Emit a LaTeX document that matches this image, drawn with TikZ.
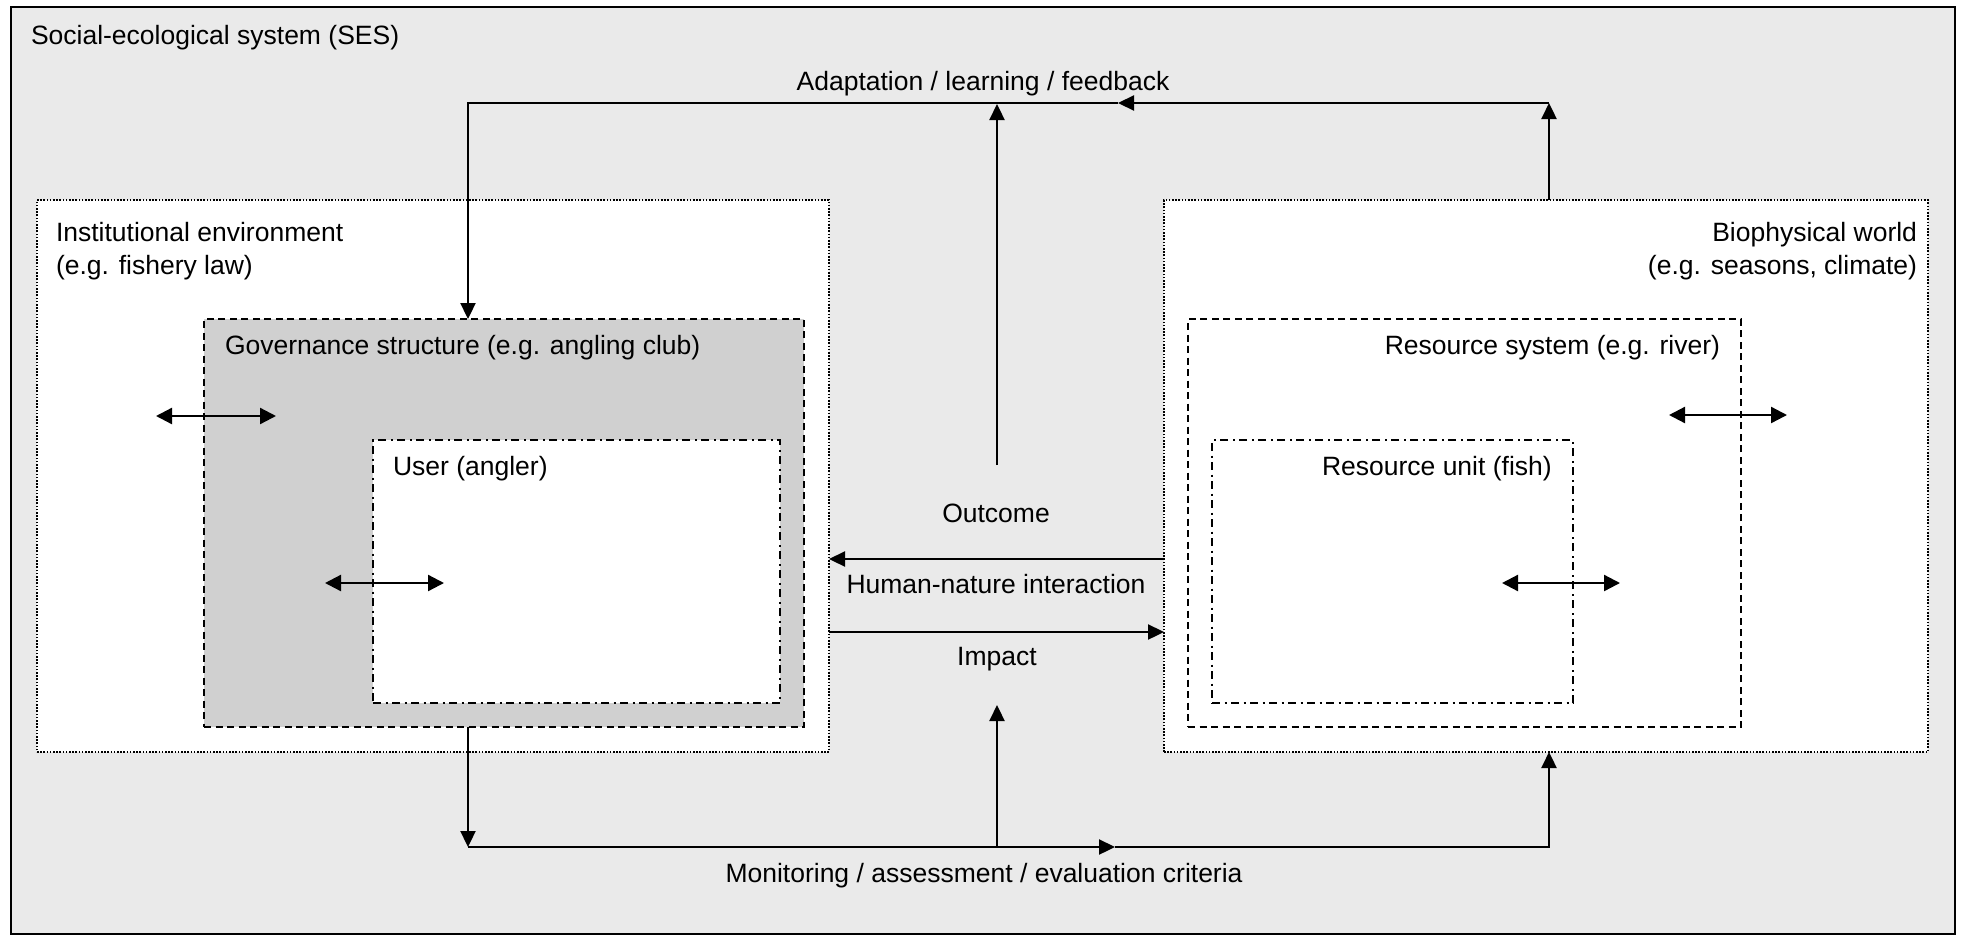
\documentclass[tikz,border=0pt]{standalone}
\usepackage{fontspec}
\setmainfont{Liberation Sans}
\usetikzlibrary{arrows.meta}
\definecolor{sesbg}{RGB}{234,234,234}
\definecolor{govbg}{RGB}{208,208,208}
\tikzset{
  lbl/.style={inner sep=0pt, outer sep=0pt, font=\fontsize{26.5}{32}\selectfont},
  boxbase/.style={anchor=north west, inner sep=0pt, outer sep=0pt},
  sesbox/.style={boxbase, draw=black, line width=2.2pt, fill=sesbg},
  dotbox/.style={boxbase, draw=black, line width=1.8pt, dash pattern=on 1.6pt off 1.6pt, fill=white},
  dashbox/.style={boxbase, draw=black, line width=2.3pt, dash pattern=on 7pt off 4.5pt},
  dashdotbox/.style={boxbase, draw=black, line width=2.3pt, dash pattern=on 8pt off 4.5pt on 2pt off 4.5pt, fill=white},
  arr/.style={line width=2.3pt, -{Triangle[length=16pt,width=15pt]}},
  darr/.style={line width=2.3pt, {Triangle[length=16pt,width=16pt]}-{Triangle[length=16pt,width=16pt]}},
}
\begin{document}
\begin{tikzpicture}[x=1pt,y=-1pt]
\useasboundingbox (0,0) rectangle (1962,940);
% boxes
\node[sesbox, minimum width=1944pt, minimum height=927pt] (ses) at (11,7) {};
\node[dotbox, minimum width=792pt, minimum height=552pt] (inst) at (37,200) {};
\node[dotbox, minimum width=764pt, minimum height=552pt] (bio) at (1164,200) {};
\node[dashbox, fill=govbg, minimum width=600pt, minimum height=408pt] (gov) at (204,319) {};
\node[dashdotbox, minimum width=407pt, minimum height=263pt] (user) at (373,440) {};
\node[dashbox, fill=white, minimum width=553pt, minimum height=408pt] (rs) at (1188,319) {};
\node[dashdotbox, minimum width=361pt, minimum height=263pt] (ru) at (1212,440) {};
% labels
\node[lbl, anchor=base west] (sesl) at (31,44) {Social-ecological system (SES)};
\node[lbl, anchor=base] (adapt) at (983,90) {Adaptation / learning / feedback};
\node[lbl, anchor=base west] (instl1) at (56,241) {Institutional environment};
\node[lbl, anchor=base west] (instl2) at (56,274) {(e.g. fishery law)};
\node[lbl, anchor=base east] (biol1) at (1917,241) {Biophysical world};
\node[lbl, anchor=base east] (biol2) at (1917,274) {(e.g. seasons, climate)};
\node[lbl, anchor=base west] (govl) at (225,354) {Governance structure (e.g. angling club)};
\node[lbl, anchor=base east] (rsl) at (1720,354) {Resource system (e.g. river)};
\node[lbl, anchor=base west] (userl) at (393,475) {User (angler)};
\node[lbl, anchor=base west] (rul) at (1322,475) {Resource unit (fish)};
\node[lbl, anchor=base] (outl) at (996,522) {Outcome};
\node[lbl, anchor=base] (hnl) at (996,593) {Human-nature interaction};
\node[lbl, anchor=base] (impl) at (997,665) {Impact};
\node[lbl, anchor=base] (monl) at (984,882) {Monitoring / assessment / evaluation criteria};
% connector coordinates
\coordinate (bioTop) at (1549,200);
\coordinate (tr) at (1549,103);
\coordinate (tm) at (1118,103);
\coordinate (tl) at (468,103);
\coordinate (govTop) at (468,319);
\coordinate (outS) at (997,465);
\coordinate (outE) at (997,104);
\coordinate (hnA1) at (1164,559);
\coordinate (hnA2) at (829,559);
\coordinate (hnB1) at (829,632);
\coordinate (hnB2) at (1164,632);
\coordinate (govBot) at (468,727);
\coordinate (bl) at (468,847);
\coordinate (bm) at (1115,847);
\coordinate (br) at (1549,847);
\coordinate (bioBot) at (1549,752);
\coordinate (impS) at (997,847);
\coordinate (impE) at (997,705);
\coordinate (d1a) at (156,416); \coordinate (d1b) at (276,416);
\coordinate (d2a) at (325,583); \coordinate (d2b) at (444,583);
\coordinate (d3a) at (1669,415); \coordinate (d3b) at (1787,415);
\coordinate (d4a) at (1502,583); \coordinate (d4b) at (1620,583);
% connectors
\draw[arr] (bioTop) -- (tr);
\draw[arr] (tr) -- (tm);
\draw[arr] (tm) -- (tl) -- (govTop);
\draw[arr] (outS) -- (outE);
\draw[arr] (hnA1) -- (hnA2);
\draw[arr] (hnB1) -- (hnB2);
\draw[arr] (govBot) -- (bl);
\draw[arr] (bl) -- (bm);
\draw[arr] (bm) -- (br) -- (bioBot);
\draw[arr] (impS) -- (impE);
\draw[darr] (d1a) -- (d1b);
\draw[darr] (d2a) -- (d2b);
\draw[darr] (d3a) -- (d3b);
\draw[darr] (d4a) -- (d4b);
\end{tikzpicture}
\end{document}
